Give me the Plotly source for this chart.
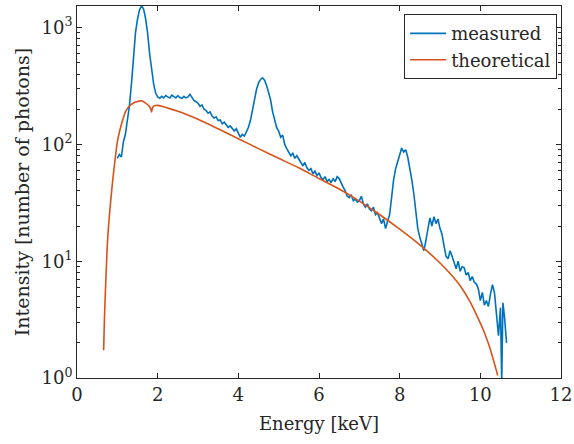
import plotly.graph_objects as go

# measured spectrum
meas_E = [1.00, 1.05, 1.10, 1.15, 1.20, 1.25, 1.30, 1.35, 1.40, 1.45, 1.50, 1.55, 1.60, 1.65, 1.70,
          1.75, 1.80, 1.85, 1.90, 1.95, 2.00, 2.05, 2.10, 2.15, 2.20, 2.25, 2.30, 2.35, 2.40, 2.45,
          2.50, 2.55, 2.60, 2.65, 2.70, 2.75, 2.80, 2.85, 2.90, 2.95, 3.00, 3.05, 3.10, 3.15, 3.20,
          3.25, 3.30, 3.35, 3.40, 3.45, 3.50, 3.55, 3.60, 3.65, 3.70, 3.75, 3.80, 3.85, 3.90, 3.95,
          4.00, 4.05, 4.10, 4.15, 4.20, 4.25, 4.30, 4.35, 4.40, 4.45, 4.50, 4.55, 4.60, 4.65, 4.70,
          4.75, 4.80, 4.85, 4.90, 4.95, 5.00, 5.05, 5.10, 5.15, 5.20, 5.25, 5.30, 5.35, 5.40, 5.45,
          5.50, 5.55, 5.60, 5.65, 5.70, 5.75, 5.80, 5.85, 5.90, 5.95, 6.00, 6.05, 6.10, 6.15, 6.20,
          6.25, 6.30, 6.35, 6.40, 6.45, 6.50, 6.55, 6.60, 6.65, 6.70, 6.75, 6.80, 6.85, 6.90, 6.95,
          7.00, 7.05, 7.10, 7.15, 7.20, 7.25, 7.30, 7.35, 7.40, 7.45, 7.50, 7.55, 7.60, 7.65, 7.70,
          7.75, 7.80, 7.85, 7.90, 7.95, 8.00, 8.05, 8.10, 8.15, 8.20, 8.25, 8.30, 8.35, 8.40, 8.45,
          8.50, 8.55, 8.60, 8.65, 8.70, 8.75, 8.80, 8.85, 8.90, 8.95, 9.00, 9.05, 9.10, 9.15, 9.20,
          9.25, 9.30, 9.35, 9.40, 9.45, 9.50, 9.55, 9.60, 9.65, 9.70, 9.75, 9.80, 9.85, 9.90, 9.95,
          10.00, 10.05, 10.10, 10.15, 10.20, 10.25, 10.30, 10.35, 10.40, 10.45, 10.50, 10.53, 10.56,
          10.60, 10.65]
meas_I = [76, 82, 78, 105, 122, 160, 215, 330, 560, 900, 1180, 1420, 1530, 1450, 1200,
          900, 600, 420, 330, 275, 255, 248, 258, 250, 262, 255, 250, 264, 256, 250,
          262, 252, 248, 258, 250, 255, 268, 252, 238, 232, 225, 212, 218, 200, 195,
          185, 190, 175, 168, 172, 160, 162, 150, 155, 146, 140, 144, 135, 130, 136,
          125, 115, 122, 118, 128, 140, 160, 200, 245, 295, 335, 360, 372, 355, 320,
          280, 240, 190, 160, 140, 130, 115, 120, 100, 92, 85, 80, 84, 76, 80,
          74, 70, 66, 70, 63, 60, 62, 56, 59, 54, 57, 52, 50, 53, 48,
          50, 47, 51, 48, 53, 51, 46, 43, 40, 36, 35, 37, 33, 34, 32,
          33, 36, 31, 29, 31, 28, 27, 29, 25, 26, 23, 21, 23, 19, 22,
          25, 35, 50, 62, 72, 82, 93, 86, 90, 78, 64, 50, 38, 26, 19,
          16, 14, 12.3, 15, 19, 23.5, 20, 24, 21, 23, 19, 17, 13.5, 11, 10.5,
          12.3, 11, 9.5, 8.6, 10, 8.2, 9, 8.8, 7.6, 8, 6.8, 7.4, 6.6, 6.4, 5.8,
          4.6, 5.4, 4.2, 4.6, 4.1, 5.2, 6.3, 5.4, 3.2, 2.3, 4.0, 0.9, 4.4,
          3.3, 2.0]

# theoretical spectrum
theo_E = [0.66, 0.68, 0.70, 0.75, 0.80, 0.85, 0.90, 0.95, 1.00, 1.05, 1.10, 1.20, 1.30, 1.40,
          1.50, 1.57, 1.60, 1.70, 1.78, 1.83, 1.85, 1.87, 1.92, 2.00, 2.5, 3.0, 3.5, 4.0, 4.5,
          5.0, 5.5, 6.0, 6.5, 7.0, 7.5, 8.0, 8.5, 9.0, 9.25, 9.5, 9.75, 10.0, 10.1, 10.2,
          10.3, 10.4, 10.43]
theo_I = [1.73, 3.2, 5.0, 13.5, 24, 37, 55, 77, 105, 127, 148, 190, 213, 226,
          233, 236, 236, 226, 214, 200, 190, 206, 214, 216, 192, 164, 136, 112, 92,
          76, 63, 51, 41.5, 32.7, 25.1, 18.8, 13.8, 9.66, 7.85, 6.17, 4.47, 2.95, 2.45, 1.97,
          1.53, 1.15, 1.05]

x_ticks = [0, 2, 4, 6, 8, 10, 12]
y_ticks = [1, 10, 100, 1000]
y_labels = ["10<sup>0</sup>", "10<sup>1</sup>", "10<sup>2</sup>", "10<sup>3</sup>"]
y_minor = [k * 10 ** d for d in range(0, 4) for k in range(2, 10)]

FONT = "DejaVu Serif"
AX = "#262626"

fig = go.Figure()
fig.add_trace(go.Scatter(x=meas_E, y=meas_I, mode="lines", name="measured",
                         line=dict(color="#0072BD", width=1.6)))
fig.add_trace(go.Scatter(x=theo_E, y=theo_I, mode="lines", name="theoretical",
                         line=dict(color="#D95319", width=1.6, shape="spline", smoothing=0.6)))

fig.update_layout(
    width=574, height=444,
    margin=dict(l=77, r=13, t=6, b=66),
    paper_bgcolor="white", plot_bgcolor="white",
    font=dict(family=FONT, size=18, color=AX),
    showlegend=True,
    legend=dict(x=0.992, y=0.978, xanchor="right", yanchor="top",
                bordercolor=AX, borderwidth=1, bgcolor="white",
                font=dict(family=FONT, size=18, color=AX),
                tracegroupgap=0, itemwidth=36),
    xaxis=dict(range=[0, 12], tickvals=x_ticks, ticks="inside", ticklen=5,
               tickcolor=AX, linecolor=AX, linewidth=1, mirror="ticks",
               showgrid=False, zeroline=False, showline=True, automargin=False,
               title=dict(text="Energy [keV]", font=dict(family=FONT, size=18, color=AX), standoff=13),
               tickfont=dict(family=FONT, size=18, color=AX)),
    yaxis=dict(type="log", range=[0, 3.185], tickvals=y_ticks, ticktext=y_labels,
               ticks="inside", ticklen=5, tickcolor=AX, linecolor=AX, linewidth=1,
               mirror="ticks", showgrid=False, zeroline=False, showline=True, automargin=False,
               minor=dict(tickvals=y_minor, ticks="inside", ticklen=3, tickcolor=AX, showgrid=False),
               title=dict(text="Intensity [number of photons]", font=dict(family=FONT, size=19, color=AX), standoff=6),
               tickfont=dict(family=FONT, size=18, color=AX)),
)

fig.write_html("out.html", config={"displayModeBar": False},
               post_script="document.body.style.margin='0';")
